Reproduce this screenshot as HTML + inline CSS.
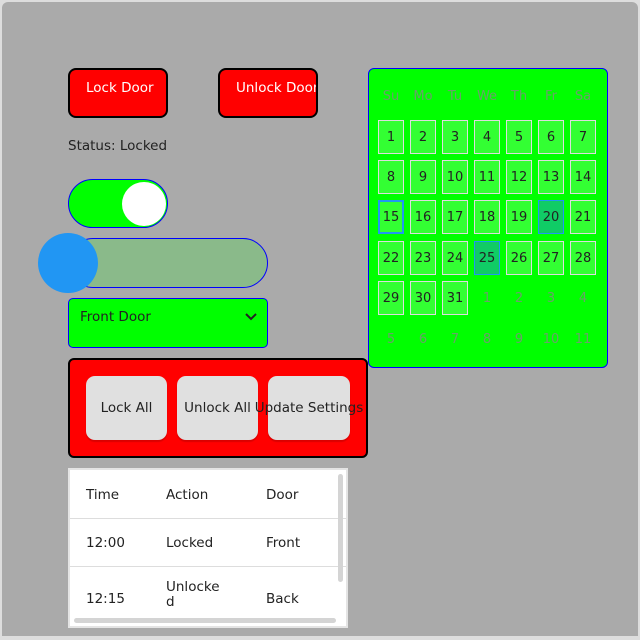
<!DOCTYPE html>
<html><head><meta charset="utf-8"><style>
*{box-sizing:border-box;margin:0;padding:0}
body{width:640px;height:640px;background:#ddd;font-family:"DejaVu Sans","Liberation Sans",sans-serif;position:relative;overflow:hidden}
.a{position:absolute}
#frame{left:2px;top:2px;width:636px;height:634px;background:#aaa;border-radius:6px 6px 0 0}
.rb{background:#f00;border:2px solid #000;border-radius:8px;color:#fff;font-size:13.5px;padding:10px 0 0 16px;white-space:nowrap;overflow:hidden}
.gb{background:#e0e0e0;border-radius:9px;font-size:13.5px;color:#222;display:flex;align-items:center;justify-content:center;white-space:nowrap;box-shadow:0 2px 1px rgba(0,0,0,.15)}
.cal{left:368px;top:68px;width:240px;height:300px;background:#0f0;border:1px solid #00f;border-radius:6px}
.cell{position:absolute;width:26px;height:34px;display:flex;align-items:center;justify-content:center;font-size:13px;color:#222}
.in{background:#33ff33;border:1px solid #ddd}
.out{color:#6aa06a}
.hd{color:#6aa06a}
.t{font-size:13.5px;color:#222}
</style></head><body>
<div class="a" id="frame"></div>
<div class="a rb" style="left:68px;top:68px;width:100px;height:50px">Lock Door</div>
<div class="a rb" style="left:218px;top:68px;width:100px;height:50px">Unlock Door</div>
<div class="a t" style="left:68px;top:138px">Status: Locked</div>
<div class="a" style="left:68px;top:179px;width:100px;height:49px;background:#0f0;border:1px solid #00f;border-radius:25px">
<div class="a" style="left:53px;top:2px;width:44px;height:44px;border-radius:50%;background:#fff"></div></div>
<div class="a" style="left:68px;top:238px;width:200px;height:50px;background:#8aba8a;border:1px solid #00f;border-radius:25px"></div>
<div class="a" style="left:38px;top:233px;width:60px;height:60px;border-radius:50%;background:#2196f3"></div>
<div class="a" style="left:68px;top:298px;width:200px;height:50px;background:#0f0;border:1px solid #00f;border-radius:5px">
<span class="a t" style="left:11px;top:10px">Front Door</span>
<svg class="a" style="left:175px;top:13px" width="14" height="10"><path d="M2 2 L7 7 L12 2" stroke="#222" stroke-width="2" fill="none"/></svg></div>
<div class="a" style="left:68px;top:358px;width:300px;height:100px;background:#f00;border:2px solid #000;border-radius:6px"></div>
<div class="a gb" style="left:86px;top:376px;width:81px;height:64px">Lock All</div>
<div class="a gb" style="left:177px;top:376px;width:81px;height:64px">Unlock All</div>
<div class="a gb" style="left:268px;top:376px;width:82px;height:64px;overflow:visible">Update Settings</div>
<div class="a" style="left:68px;top:468px;width:280px;height:160px;background:#fff;border:2px solid #e4e4e4;overflow:hidden">
<div class="a" style="left:0;top:48px;width:280px;height:1px;background:#ddd"></div>
<div class="a" style="left:0;top:96px;width:280px;height:1px;background:#ddd"></div>
<span class="a t" style="left:16px;top:17px">Time</span>
<span class="a t" style="left:96px;top:17px">Action</span>
<span class="a t" style="left:196px;top:17px">Door</span>
<span class="a t" style="left:16px;top:65px">12:00</span>
<span class="a t" style="left:96px;top:65px">Locked</span>
<span class="a t" style="left:196px;top:65px">Front</span>
<span class="a t" style="left:16px;top:121px">12:15</span>
<span class="a t" style="left:96px;top:110px;line-height:15px">Unlocke<br>d</span>
<span class="a t" style="left:196px;top:121px">Back</span>
<div class="a" style="left:268px;top:4px;width:5px;height:108px;background:#d4d4d4;border-radius:3px"></div>
<div class="a" style="left:4px;top:148px;width:262px;height:5px;background:#d4d4d4;border-radius:3px"></div>
</div>
<div class="a cal"></div>
<div id="cal"></div>
<script>
const heads=['Su','Mo','Tu','We','Th','Fr','Sa'];
const colX=[391,423,455,487,519,551,583];
const rowY=[137,177,217,258,298,339];
const c=document.getElementById('cal');
heads.forEach((h,i)=>{const d=document.createElement('div');d.className='cell hd';d.style.left=(colX[i]-13)+'px';d.style.top='79px';d.textContent=h;


c.appendChild(d);});
for(let k=0;k<42;k++){const r=Math.floor(k/7),col=k%7;let n=k+1,inM=true;if(n>31){n-=31;inM=false;}
const d=document.createElement('div');d.className='cell '+(inM?'in':'out');d.style.left=(colX[col]-13)+'px';d.style.top=(rowY[r]-17)+'px';d.textContent=n;
if(inM&&n==15){d.style.border='2px solid #2196f3';}
if(inM&&(n==20||n==25)){d.style.background='#10cc66';d.style.border='1px solid #2196f3';}


c.appendChild(d);}
</script>
</body></html>
